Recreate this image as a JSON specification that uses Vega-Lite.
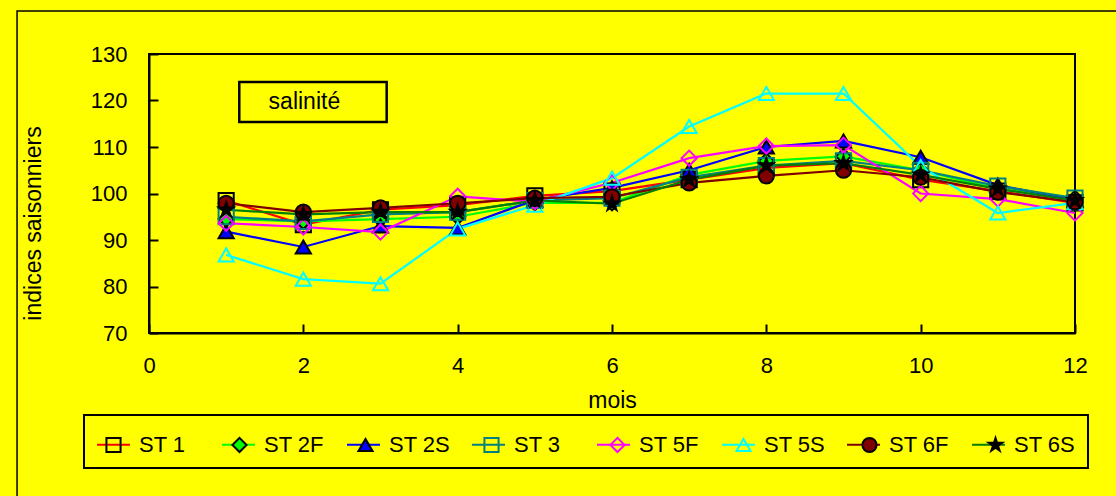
{
  "$schema": "https://vega.github.io/schema/vega-lite/v6.json",
  "width": 926,
  "height": 279,
  "autosize": {"type": "none"},
  "padding": {"left": 149, "top": 54, "right": 41, "bottom": 163},
  "background": "#FFFF00",
  "config": {
    "view": {"stroke": "#000000", "strokeWidth": 2},
    "font": "Liberation Sans",
    "axis": {"grid": false, "domainColor": "#000000", "domainWidth": 2, "tickColor": "#000000", "tickWidth": 2, "tickSize": -9, "labelColor": "#000000", "labelFont": "Liberation Sans", "labelFontSize": 22, "labelFlush": false, "labelOverlap": false, "titleFont": "Liberation Sans", "titleFontSize": 23, "titleFontWeight": "normal", "titleColor": "#000000"},
    "legend": {"strokeWidth": 2, "labelFont": "Liberation Sans", "labelFontSize": 22, "labelColor": "#000000"}
  },
  "data": {"values": [
    {"mois":1,"station":"ST 1","value":98.5},{"mois":2,"station":"ST 1","value":93.3},{"mois":3,"station":"ST 1","value":96.5},{"mois":4,"station":"ST 1","value":97.5},{"mois":5,"station":"ST 1","value":99.5},{"mois":6,"station":"ST 1","value":100.5},{"mois":7,"station":"ST 1","value":103},{"mois":8,"station":"ST 1","value":105.5},{"mois":9,"station":"ST 1","value":106.5},{"mois":10,"station":"ST 1","value":103},{"mois":11,"station":"ST 1","value":100.5},{"mois":12,"station":"ST 1","value":98},
    {"mois":1,"station":"ST 2F","value":94.5},{"mois":2,"station":"ST 2F","value":94},{"mois":3,"station":"ST 2F","value":94.5},{"mois":4,"station":"ST 2F","value":95},{"mois":5,"station":"ST 2F","value":98},{"mois":6,"station":"ST 2F","value":98},{"mois":7,"station":"ST 2F","value":104},{"mois":8,"station":"ST 2F","value":107},{"mois":9,"station":"ST 2F","value":108},{"mois":10,"station":"ST 2F","value":105},{"mois":11,"station":"ST 2F","value":101},{"mois":12,"station":"ST 2F","value":99},
    {"mois":1,"station":"ST 2S","value":91.8},{"mois":2,"station":"ST 2S","value":88.5},{"mois":3,"station":"ST 2S","value":93},{"mois":4,"station":"ST 2S","value":92.6},{"mois":5,"station":"ST 2S","value":98.6},{"mois":6,"station":"ST 2S","value":101.2},{"mois":7,"station":"ST 2S","value":105},{"mois":8,"station":"ST 2S","value":110},{"mois":9,"station":"ST 2S","value":111.3},{"mois":10,"station":"ST 2S","value":107.8},{"mois":11,"station":"ST 2S","value":101.8},{"mois":12,"station":"ST 2S","value":98.6},
    {"mois":1,"station":"ST 3","value":95},{"mois":2,"station":"ST 3","value":94},{"mois":3,"station":"ST 3","value":95.5},{"mois":4,"station":"ST 3","value":96},{"mois":5,"station":"ST 3","value":98.5},{"mois":6,"station":"ST 3","value":99},{"mois":7,"station":"ST 3","value":103.5},{"mois":8,"station":"ST 3","value":106},{"mois":9,"station":"ST 3","value":107},{"mois":10,"station":"ST 3","value":105},{"mois":11,"station":"ST 3","value":101.6},{"mois":12,"station":"ST 3","value":99},
    {"mois":1,"station":"ST 5F","value":93.6},{"mois":2,"station":"ST 5F","value":92.8},{"mois":3,"station":"ST 5F","value":91.7},{"mois":4,"station":"ST 5F","value":99.4},{"mois":5,"station":"ST 5F","value":98.2},{"mois":6,"station":"ST 5F","value":102.3},{"mois":7,"station":"ST 5F","value":107.6},{"mois":8,"station":"ST 5F","value":110.2},{"mois":9,"station":"ST 5F","value":110.4},{"mois":10,"station":"ST 5F","value":100},{"mois":11,"station":"ST 5F","value":98.8},{"mois":12,"station":"ST 5F","value":95.8},
    {"mois":1,"station":"ST 5S","value":86.8},{"mois":2,"station":"ST 5S","value":81.6},{"mois":3,"station":"ST 5S","value":80.6},{"mois":4,"station":"ST 5S","value":92.4},{"mois":5,"station":"ST 5S","value":97.5},{"mois":6,"station":"ST 5S","value":103.3},{"mois":7,"station":"ST 5S","value":114.4},{"mois":8,"station":"ST 5S","value":121.5},{"mois":9,"station":"ST 5S","value":121.5},{"mois":10,"station":"ST 5S","value":105.8},{"mois":11,"station":"ST 5S","value":95.8},{"mois":12,"station":"ST 5S","value":98},
    {"mois":1,"station":"ST 6F","value":97.9},{"mois":2,"station":"ST 6F","value":96},{"mois":3,"station":"ST 6F","value":96.9},{"mois":4,"station":"ST 6F","value":97.9},{"mois":5,"station":"ST 6F","value":99},{"mois":6,"station":"ST 6F","value":99.3},{"mois":7,"station":"ST 6F","value":102.3},{"mois":8,"station":"ST 6F","value":103.8},{"mois":9,"station":"ST 6F","value":105},{"mois":10,"station":"ST 6F","value":103.5},{"mois":11,"station":"ST 6F","value":100.3},{"mois":12,"station":"ST 6F","value":98.2},
    {"mois":1,"station":"ST 6S","value":96.5},{"mois":2,"station":"ST 6S","value":95.5},{"mois":3,"station":"ST 6S","value":96},{"mois":4,"station":"ST 6S","value":96},{"mois":5,"station":"ST 6S","value":98.5},{"mois":6,"station":"ST 6S","value":97.8},{"mois":7,"station":"ST 6S","value":103},{"mois":8,"station":"ST 6S","value":106},{"mois":9,"station":"ST 6S","value":106.5},{"mois":10,"station":"ST 6S","value":104},{"mois":11,"station":"ST 6S","value":101},{"mois":12,"station":"ST 6S","value":98.5}
  ]},
  "layer": [
    {
      "encoding": {
        "x": {"field": "mois", "type": "quantitative", "scale": {"domain": [0, 12], "nice": false},
          "axis": {"title": "mois", "values": [0, 2, 4, 6, 8, 10, 12], "format": "d", "labelBaseline": "alphabetic", "labelPadding": 48, "titleY": 74, "titleBaseline": "alphabetic"}},
        "y": {"field": "value", "type": "quantitative", "scale": {"domain": [70, 130], "nice": false, "zero": false},
          "axis": {"title": "indices saisonniers", "values": [70, 80, 90, 100, 110, 120, 130], "format": "d", "labelPadding": 31, "titleX": -116, "titleY": 169, "titleAngle": -90, "titleAlign": "center", "titleBaseline": "middle"}}
      },
      "layer": [
        {
          "mark": {"type": "line", "strokeWidth": 2.2},
          "encoding": {
            "color": {"field": "station", "type": "nominal",
              "scale": {"range": ["#FF0000", "#00FF00", "#0000FF", "#008080", "#FF00FF", "#00FFFF", "#800000", "#008000"]},
              "legend": {"orient": "none", "legendX": -65, "legendY": 361, "direction": "horizontal", "columns": 8, "title": null, "symbolType": "stroke", "symbolSize": 1089, "symbolStrokeWidth": 2, "labelOffset": 8, "columnPadding": 17, "gridAlign": "all", "padding": 12, "strokeColor": "#000000"}}
          }
        },
        {
          "mark": {"type": "point", "filled": true, "size": 230, "strokeWidth": 2, "opacity": 1},
          "encoding": {
            "shape": {"field": "station", "type": "nominal",
              "scale": {"domain": ["ST 1", "ST 2F", "ST 2S", "ST 3", "ST 5F", "ST 5S", "ST 6F", "ST 6S"],
                "range": ["square", "diamond", "triangle-up", "square", "diamond", "triangle-up", "circle", "M0,-1L0.223,-0.307L0.951,-0.309L0.361,0.117L0.588,0.809L0,0.38L-0.588,0.809L-0.361,0.117L-0.951,-0.309L-0.223,-0.307Z"]},
              "legend": {"orient": "none", "legendX": -58.5, "legendY": 367.5, "direction": "horizontal", "columns": 8, "title": null, "symbolSize": 200, "symbolStrokeWidth": 2, "labelOpacity": 0, "labelOffset": 24, "columnPadding": 17, "gridAlign": "all", "padding": 12, "strokeColor": "transparent"}},
            "fill": {"field": "station", "type": "nominal",
              "scale": {"domain": ["ST 1", "ST 2F", "ST 2S", "ST 3", "ST 5F", "ST 5S", "ST 6F", "ST 6S"],
                "range": ["transparent", "#00FF00", "#0000FF", "transparent", "transparent", "transparent", "#800000", "#000000"]},
              "legend": {"orient": "none", "legendX": -58.5, "legendY": 367.5, "direction": "horizontal", "columns": 8, "title": null, "symbolSize": 200, "symbolStrokeWidth": 2, "labelOpacity": 0, "labelOffset": 24, "columnPadding": 17, "gridAlign": "all", "padding": 12, "strokeColor": "transparent"}},
            "stroke": {"field": "station", "type": "nominal",
              "scale": {"domain": ["ST 1", "ST 2F", "ST 2S", "ST 3", "ST 5F", "ST 5S", "ST 6F", "ST 6S"],
                "range": ["#000000", "#000000", "#000000", "#008080", "#FF00FF", "#00FFFF", "#000000", "#000000"]},
              "legend": {"orient": "none", "legendX": -58.5, "legendY": 367.5, "direction": "horizontal", "columns": 8, "title": null, "symbolSize": 200, "symbolStrokeWidth": 2, "labelOpacity": 0, "labelOffset": 24, "columnPadding": 17, "gridAlign": "all", "padding": 12, "strokeColor": "transparent"}}
          }
        }
      ]
    },
    {
      "data": {"values": [{}]},
      "mark": {"type": "rect", "fill": "transparent", "stroke": "#000000", "strokeWidth": 1.5, "clip": false},
      "encoding": {"x": {"datum": -1.71, "type": "quantitative"}, "x2": {"datum": 13}, "y": {"datum": 139.25, "type": "quantitative"}, "y2": {"datum": 30}}
    },
    {
      "data": {"values": [{}]},
      "mark": {"type": "rect", "fill": "transparent", "stroke": "#000000", "strokeWidth": 2.5},
      "encoding": {"x": {"datum": 1.17, "type": "quantitative"}, "x2": {"datum": 3.08}, "y": {"datum": 124, "type": "quantitative"}, "y2": {"datum": 115.4}}
    },
    {
      "data": {"values": [{}]},
      "mark": {"type": "text", "text": "salinité", "align": "left", "baseline": "middle", "font": "Liberation Sans", "fontSize": 23, "color": "#000000"},
      "encoding": {"x": {"datum": 1.55, "type": "quantitative"}, "y": {"datum": 119.7, "type": "quantitative"}}
    }
  ]
}
